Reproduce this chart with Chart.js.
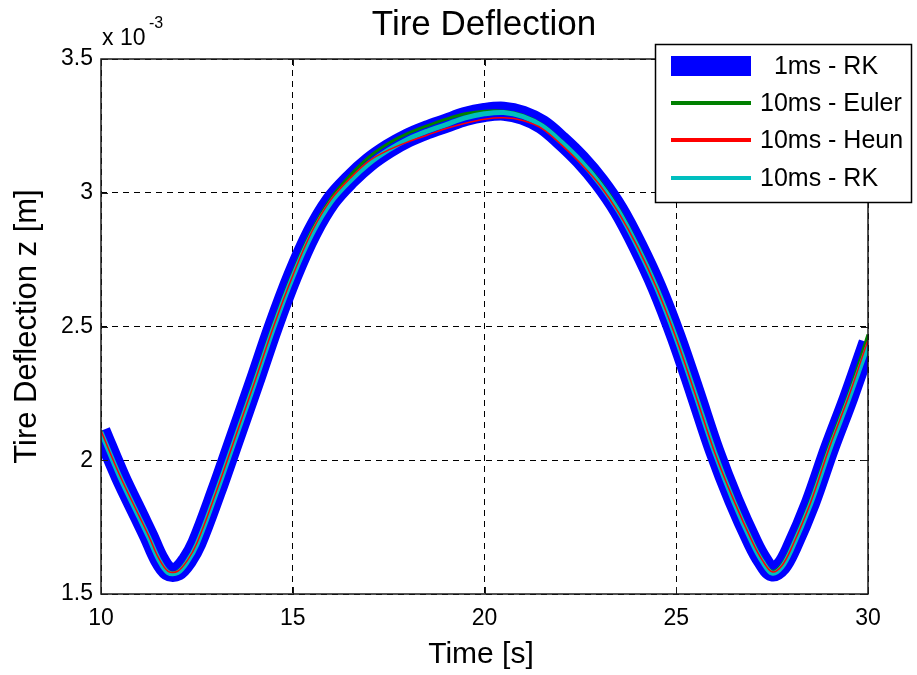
<!DOCTYPE html>
<html>
<head>
<meta charset="utf-8">
<title>Tire Deflection</title>
<script src="https://cdn.jsdelivr.net/npm/chart.js@4.4.0/dist/chart.umd.min.js"></script>
<style>
  html, body { margin: 0; padding: 0; background: #fff; }
  #wrap { width: 917px; height: 675px; }
</style>
</head>
<body>
<div id="wrap"><canvas id="chart" width="917" height="675"></canvas></div>
<script>
// Time axis [s] and tire deflection values (x 10^-3 m)
const timeS = [10, 10.5, 11, 11.25, 11.5, 11.75, 12, 12.25, 12.5, 13, 13.5, 14, 14.5, 15, 15.5, 16, 16.5, 17, 17.5, 18, 18.5, 19, 19.5,
  20, 20.5, 21, 21.5, 22, 22.5, 23, 23.5, 24, 24.5, 25, 25.5, 26, 26.5, 27, 27.25, 27.5, 27.75, 28, 28.5, 29, 29.5, 30];

const rk1ms = [2.11, 1.94, 1.79, 1.715, 1.635, 1.585, 1.585, 1.625, 1.69, 1.88, 2.085, 2.29, 2.50, 2.69, 2.85, 2.97, 3.05, 3.115, 3.165, 3.205, 3.235, 3.26, 3.285,
  3.30, 3.305, 3.29, 3.255, 3.195, 3.125, 3.04, 2.935, 2.80, 2.645, 2.46, 2.25, 2.035, 1.85, 1.69, 1.625, 1.583, 1.605, 1.67, 1.84, 2.045, 2.235, 2.44];

const euler10ms = [2.11, 1.94, 1.79, 1.715, 1.635, 1.585, 1.585, 1.627, 1.692, 1.885, 2.09, 2.30, 2.51, 2.70, 2.86, 2.98, 3.065, 3.135, 3.185, 3.222, 3.25, 3.275, 3.295,
  3.305, 3.305, 3.29, 3.255, 3.195, 3.125, 3.045, 2.94, 2.805, 2.65, 2.465, 2.255, 2.04, 1.855, 1.695, 1.628, 1.585, 1.61, 1.675, 1.85, 2.06, 2.25, 2.47];

const heun10ms = [2.11, 1.94, 1.79, 1.715, 1.635, 1.585, 1.585, 1.625, 1.69, 1.88, 2.085, 2.29, 2.50, 2.69, 2.855, 2.975, 3.055, 3.12, 3.16, 3.19, 3.215, 3.24, 3.26,
  3.275, 3.28, 3.27, 3.24, 3.18, 3.11, 3.03, 2.925, 2.795, 2.64, 2.455, 2.245, 2.03, 1.85, 1.69, 1.625, 1.583, 1.605, 1.67, 1.84, 2.05, 2.24, 2.45];

const rk10ms = [2.105, 1.935, 1.785, 1.71, 1.63, 1.58, 1.58, 1.62, 1.685, 1.875, 2.08, 2.285, 2.495, 2.685, 2.845, 2.965, 3.045, 3.11, 3.16, 3.20, 3.23, 3.255, 3.28,
  3.295, 3.30, 3.285, 3.25, 3.19, 3.12, 3.035, 2.93, 2.795, 2.64, 2.455, 2.245, 2.03, 1.845, 1.685, 1.62, 1.578, 1.60, 1.665, 1.835, 2.04, 2.23, 2.43];

const xTicks = [10, 15, 20, 25, 30];
const yTicks = [1.5, 2, 2.5, 3, 3.5];
const seriesLabels = ['  1ms - RK', '10ms - Euler', '10ms - Heun', '10ms - RK'];

const FONT = "'Liberation Sans', Arial, Helvetica, sans-serif";
Chart.defaults.font.family = FONT;

const toPoints = vals => vals.map((v, i) => ({ x: timeS[i], y: v }));

// MATLAB-like box, inward ticks, labels and legend
const matlabFrame = {
  id: 'matlabFrame',
  afterDatasetsDraw(chart) {
    const { ctx, chartArea: a, scales: { x, y } } = chart;
    ctx.save();
    ctx.strokeStyle = '#1a1a1a';
    ctx.lineWidth = 1.5;
    ctx.setLineDash([]);
    ctx.strokeRect(a.left, a.top, a.right - a.left, a.bottom - a.top);
    ctx.beginPath();
    xTicks.forEach(v => {
      const px = Math.round(x.getPixelForValue(v)) + 0.5;
      ctx.moveTo(px, a.bottom); ctx.lineTo(px, a.bottom - 7);
      ctx.moveTo(px, a.top); ctx.lineTo(px, a.top + 7);
    });
    yTicks.forEach(v => {
      const py = Math.round(y.getPixelForValue(v)) + 0.5;
      ctx.moveTo(a.left, py); ctx.lineTo(a.left + 7, py);
      ctx.moveTo(a.right, py); ctx.lineTo(a.right - 7, py);
    });
    ctx.lineWidth = 1;
    ctx.stroke();
    ctx.restore();
  },
  afterDraw(chart) {
    const { ctx, chartArea: a } = chart;
    ctx.save();
    ctx.fillStyle = '#000';

    // title
    ctx.font = `35px ${FONT}`;
    ctx.textAlign = 'center';
    ctx.textBaseline = 'alphabetic';
    ctx.fillText('Tire Deflection', 484, 35);

    // axis titles
    ctx.font = `30px ${FONT}`;
    ctx.fillText('Time [s]', 481, 663);
    ctx.save();
    ctx.translate(36, (a.top + a.bottom) / 2);
    ctx.rotate(-Math.PI / 2);
    ctx.font = `31px ${FONT}`;
    ctx.fillText('Tire Deflection z [m]', 0, 0);
    ctx.restore();

    // exponent
    ctx.textAlign = 'left';
    ctx.font = `23px ${FONT}`;
    ctx.fillText('x 10', 102, 45);
    ctx.font = `16px ${FONT}`;
    ctx.fillText('-3', 149, 28);

    // legend
    const box = { x: 655.5, y: 44.5, w: 256, h: 158 };
    ctx.fillStyle = '#fff';
    ctx.fillRect(box.x, box.y, box.w, box.h);
    ctx.strokeStyle = '#000';
    ctx.lineWidth = 1.5;
    ctx.strokeRect(box.x, box.y, box.w, box.h);
    const rows = [66, 103, 140, 178];
    chart.data.datasets.forEach((ds, i) => {
      ctx.beginPath();
      ctx.strokeStyle = ds.borderColor;
      ctx.lineWidth = i === 0 ? 20 : 4;
      ctx.lineCap = 'butt';
      ctx.moveTo(671, rows[i]);
      ctx.lineTo(751, rows[i]);
      ctx.stroke();
      ctx.fillStyle = '#000';
      ctx.font = `25px ${FONT}`;
      ctx.textBaseline = 'middle';
      ctx.fillText(ds.label, 760, rows[i] + 1);
    });
    ctx.restore();
  }
};

const tickFont = { size: 23, family: FONT };

new Chart(document.getElementById('chart'), {
  type: 'line',
  data: {
    datasets: [
      { label: seriesLabels[0], data: toPoints(rk1ms), borderColor: '#0000ff', borderWidth: 19, order: 4 },
      { label: seriesLabels[1], data: toPoints(euler10ms), borderColor: '#008000', borderWidth: 3, order: 3 },
      { label: seriesLabels[2], data: toPoints(heun10ms), borderColor: '#ff0000', borderWidth: 1.5, order: 1 },
      { label: seriesLabels[3], data: toPoints(rk10ms), borderColor: '#00bfbf', borderWidth: 5, order: 2 }
    ].map(ds => Object.assign(ds, {
      pointRadius: 0,
      fill: false,
      tension: 0.35,
      borderJoinStyle: 'round',
      clip: 0
    }))
  },
  options: {
    responsive: false,
    animation: false,
    devicePixelRatio: 1,
    layout: { padding: { top: 59, right: 49, left: 0, bottom: 0 } },
    plugins: {
      legend: { display: false },
      title: { display: false },
      tooltip: { enabled: false }
    },
    scales: {
      x: {
        type: 'linear',
        min: 10,
        max: 30,
        afterFit: s => { s.height = 81; },
        afterBuildTicks: s => { s.ticks = xTicks.map(v => ({ value: v })); },
        grid: { color: '#000', lineWidth: 1, drawTicks: false },
        border: { display: false, dash: [6, 5] },
        ticks: { color: '#000', font: tickFont, padding: 11, maxRotation: 0 }
      },
      y: {
        type: 'linear',
        min: 1.5,
        max: 3.5,
        afterFit: s => { s.width = 101; },
        afterBuildTicks: s => { s.ticks = yTicks.map(v => ({ value: v })); },
        grid: { color: '#000', lineWidth: 1, drawTicks: false },
        border: { display: false, dash: [6, 5] },
        ticks: { color: '#000', font: tickFont, padding: 8, callback: v => String(v) }
      }
    }
  },
  plugins: [matlabFrame]
});
</script>
</body>
</html>
